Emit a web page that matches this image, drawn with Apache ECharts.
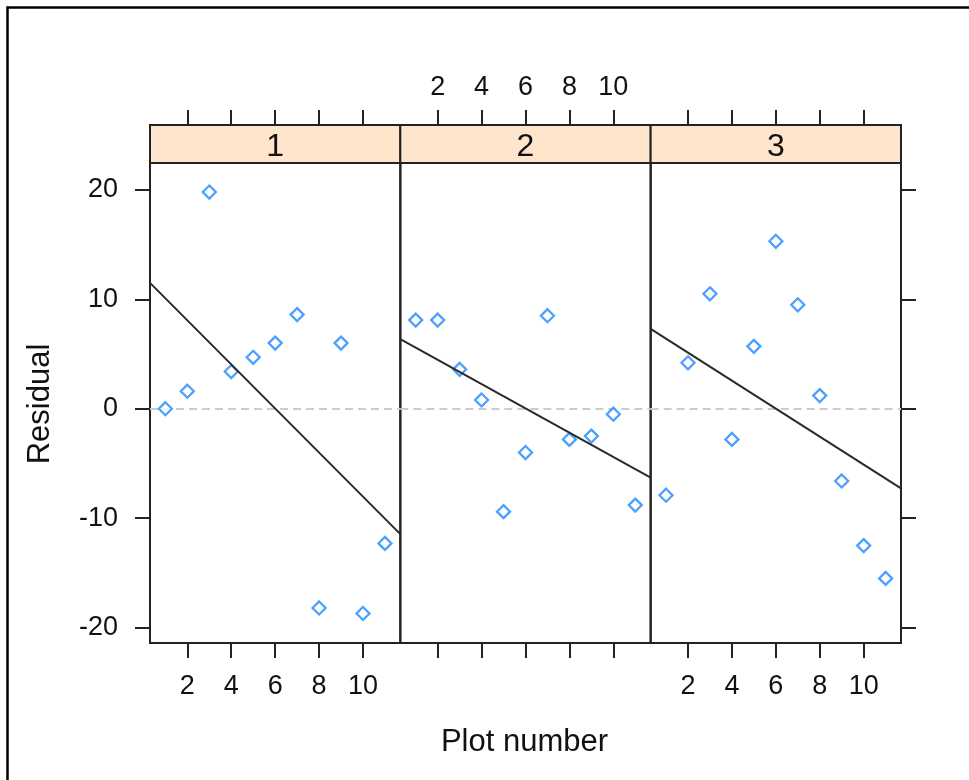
<!DOCTYPE html>
<html>
<head>
<meta charset="utf-8">
<script src="https://cdn.jsdelivr.net/npm/echarts@6/dist/echarts.min.js"></script>
<style>
  html, body { margin: 0; padding: 0; background: #fff; }
  #chart { width: 969px; height: 780px; }
</style>
</head>
<body>
<div id="chart"></div>
<script>
// ---- data ----
const plotNumbers = [1, 2, 3, 4, 5, 6, 7, 8, 9, 10, 11];
const residuals1 = [0.0, 1.6, 19.8, 3.4, 4.7, 6.0, 8.6, -18.2, 6.0, -18.7, -12.3];
const residuals2 = [8.1, 8.1, 3.6, 0.8, -9.4, -4.0, 8.5, -2.8, -2.5, -0.5, -8.8];
const residuals3 = [-7.9, 4.2, 10.5, -2.8, 5.7, 15.3, 9.5, 1.2, -6.6, -12.5, -15.5];
const panelNames = ['1', '2', '3'];
const fitStart = [11.5, 6.35, 7.3];     // fitted line value at left edge of panel
const fitEnd = [-11.45, -6.3, -7.27];   // fitted line value at right edge of panel
const xTicks = [2, 4, 6, 8, 10];
const yTicks = [-20, -10, 0, 10, 20];
const xLimits = [0.3, 11.7];
const yLimits = [-21.4, 22.45];
const xTitle = 'Plot number';
const yTitle = 'Residual';

// ---- layout ----
const FONT = "'Liberation Sans', Arial, sans-serif";
const residuals = [residuals1, residuals2, residuals3];
const P_LEFT = 150, P_TOP = 163, P_H = 480, P_W = 250.33, STRIP_H = 38;
const AX = '#222';
const TICK_FS = 27;

const chart = echarts.init(document.getElementById('chart'));

const grids = [], xAxes = [], yAxes = [], series = [], graphics = [];

for (let i = 0; i < 3; i++) {
  const left = P_LEFT + i * P_W;
  grids.push({ left: left, top: P_TOP, width: P_W, height: P_H, show: true,
    borderColor: AX, borderWidth: 2, backgroundColor: 'transparent', containLabel: false });

  const tickStyle = { show: true, inside: false, length: 15, customValues: xTicks,
    lineStyle: { color: AX, width: 2 } };
  // bottom x axis
  xAxes.push({ type: 'value', gridIndex: i, position: 'bottom', min: xLimits[0], max: xLimits[1],
    axisLine: { show: false, onZero: false }, splitLine: { show: false },
    axisTick: tickStyle,
    axisLabel: { show: i !== 1, customValues: xTicks, margin: 30, fontSize: TICK_FS, color: '#111', fontFamily: FONT } });
  // top x axis (above strip)
  xAxes.push({ type: 'value', gridIndex: i, position: 'top', offset: STRIP_H, min: xLimits[0], max: xLimits[1],
    axisLine: { show: false, onZero: false }, splitLine: { show: false },
    axisTick: tickStyle,
    axisLabel: { show: i === 1, customValues: xTicks, margin: 24, fontSize: TICK_FS, color: '#111', fontFamily: FONT } });

  // left y axis
  yAxes.push({ type: 'value', gridIndex: i, position: 'left', min: yLimits[0], max: yLimits[1],
    axisLine: { show: false, onZero: false }, splitLine: { show: false },
    axisTick: { show: i === 0, inside: false, length: 15, customValues: yTicks, lineStyle: { color: AX, width: 2 } },
    axisLabel: { show: i === 0, customValues: yTicks, margin: 32, fontSize: TICK_FS, color: '#111', fontFamily: FONT } });
  // right y axis
  yAxes.push({ type: 'value', gridIndex: i, position: 'right', min: yLimits[0], max: yLimits[1],
    axisLine: { show: false, onZero: false }, splitLine: { show: false },
    axisTick: { show: i === 2, inside: false, length: 15, customValues: yTicks, lineStyle: { color: AX, width: 2 } },
    axisLabel: { show: false } });

  series.push({
    type: 'scatter', xAxisIndex: 2 * i, yAxisIndex: 2 * i,
    data: plotNumbers.map((x, k) => [x, residuals[i][k]]),
    symbol: 'diamond', symbolSize: [13, 13],
    itemStyle: { color: '#fff', borderColor: '#1f88ff', borderWidth: 2.3 },
    z: 3,
    markLine: {
      silent: true, symbol: ['none', 'none'], label: { show: false },
      lineStyle: { color: '#cccccc', type: [8, 5], width: 2 },
      data: [{ yAxis: 0 }], z: 1
    }
  });
  series.push({
    type: 'line', xAxisIndex: 2 * i, yAxisIndex: 2 * i,
    data: [[xLimits[0], fitStart[i]], [xLimits[1], fitEnd[i]]],
    showSymbol: false, symbol: 'none', silent: true,
    lineStyle: { color: '#2a2a2a', width: 2 }, z: 4
  });

  // strip
  graphics.push({ type: 'rect', shape: { x: left, y: P_TOP - STRIP_H, width: P_W, height: STRIP_H },
    style: { fill: '#FFE5CC', stroke: AX, lineWidth: 2 }, z: 10 });
  graphics.push({ type: 'text', x: left + P_W / 2, y: P_TOP - STRIP_H / 2 + 3,
    style: { text: panelNames[i], font: '32px ' + FONT, fill: '#111', align: 'center', verticalAlign: 'middle' }, z: 11 });
}

// axis titles
graphics.push({ type: 'text', x: P_LEFT + 1.5 * P_W - 1, y: 742,
  style: { text: xTitle, font: '31px ' + FONT, fill: '#111', align: 'center', verticalAlign: 'middle' } });
graphics.push({ type: 'text', x: 40, y: 404, rotation: Math.PI / 2,
  style: { text: yTitle, font: '31px ' + FONT, fill: '#111', align: 'center', verticalAlign: 'middle' } });
// outer frame
graphics.push({ type: 'rect', shape: { x: 7.5, y: 7.5, width: 1000, height: 1000 },
  style: { fill: 'none', stroke: '#000', lineWidth: 2.5 } });

chart.setOption({
  animation: false,
  backgroundColor: '#fff',
  textStyle: { fontFamily: FONT },
  grid: grids,
  xAxis: xAxes,
  yAxis: yAxes,
  series: series,
  graphic: graphics
});
</script>
</body>
</html>
